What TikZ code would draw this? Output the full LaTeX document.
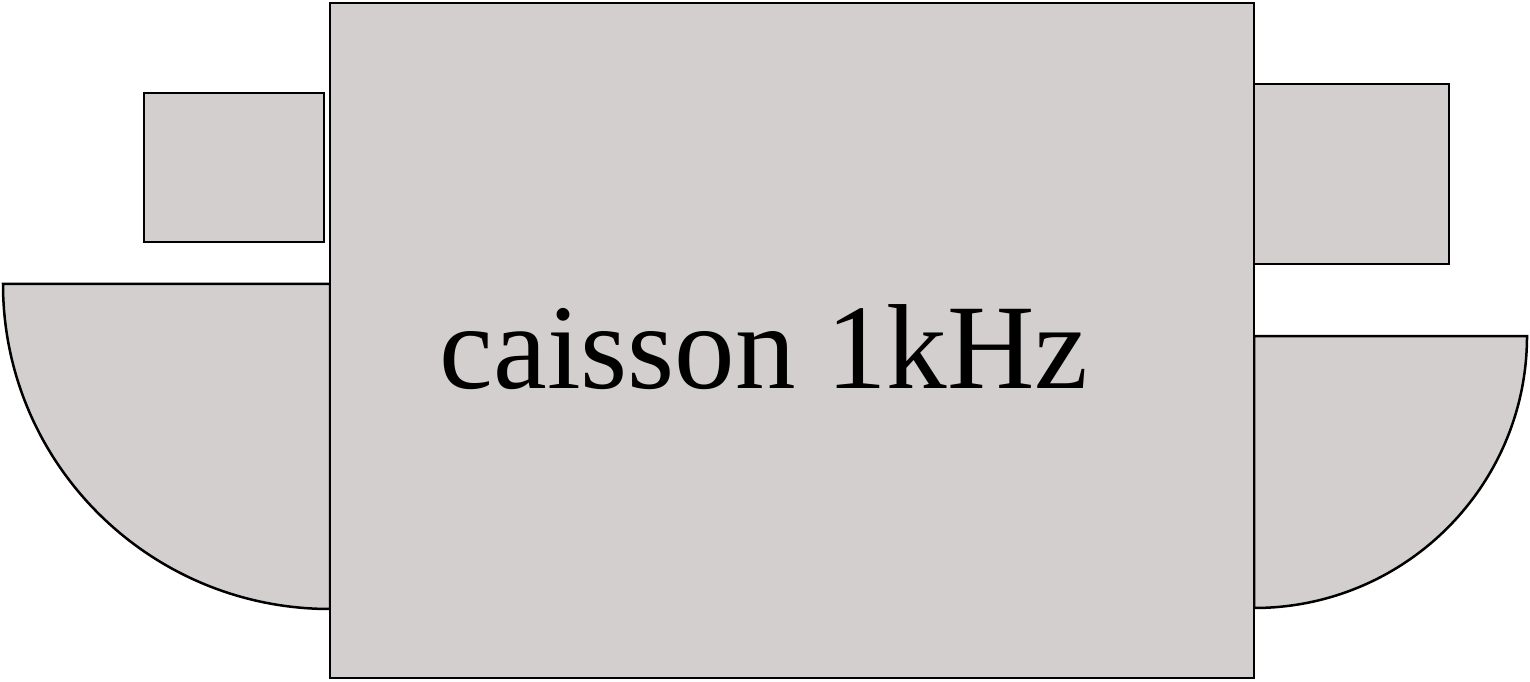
\documentclass[tikz,border=0pt]{standalone}
\usepackage{fontspec}
\setmainfont{Liberation Serif}
\definecolor{boxfill}{RGB}{211,207,207}
\begin{document}
\begin{tikzpicture}[x=1pt,y=1pt,
  part/.style={draw=black,fill=boxfill,line width=2.5pt,line join=miter}]
\useasboundingbox (0,0) rectangle (1530,681);
% left quarter disc
\draw[part] (3,397) -- (330,397) -- (330,72) arc[start angle=270,end angle=180,x radius=327,y radius=325] -- cycle;
% right quarter disc
\draw[part] (1254,345) -- (1527,345) arc[start angle=0,end angle=-90,x radius=273,y radius=272] -- cycle;
% small rectangles
\draw[part] (144,439) rectangle (324,588);
\draw[part] (1254,417) rectangle (1449,597);
% main box
\draw[part] (330,3) rectangle (1254,678);
\node[inner sep=0pt,anchor=base,font=\fontsize{121}{121}\selectfont] (label) at (764,293) {caisson 1kHz};
\end{tikzpicture}
\end{document}
